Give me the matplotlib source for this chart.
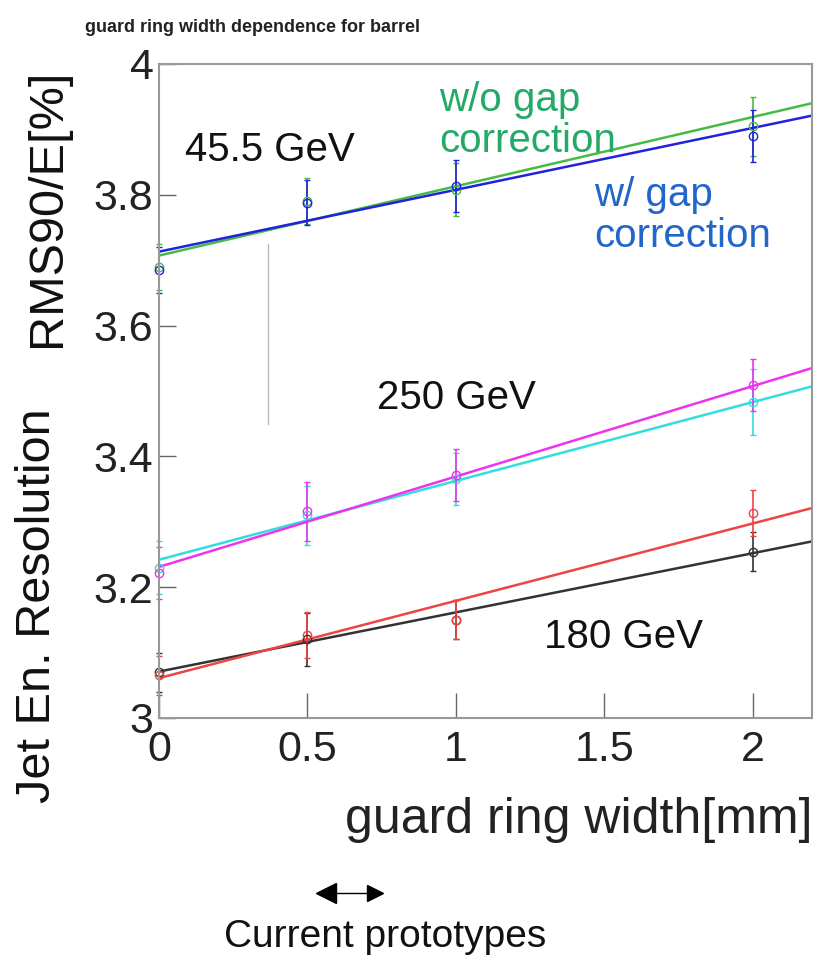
import numpy as np
import matplotlib.pyplot as plt

plt.rcParams['font.family'] = ['Liberation Sans', 'DejaVu Sans']

# guard ring widths [mm]
gr = np.array([0, 0.5, 1, 2])
fit_x = np.array([0, 2.2])

# 45.5 GeV
e45_wo = np.array([3.690, 3.790, 3.808, 3.905])
e45_wo_err = np.array([0.035, 0.035, 0.040, 0.045])
e45_w = np.array([3.685, 3.788, 3.813, 3.890])
e45_w_err = np.array([0.035, 0.035, 0.040, 0.040])
fit45_wo = np.array([3.707, 3.940])
fit45_w = np.array([3.713, 3.921])

# 250 GeV
e250_wo = np.array([3.222, 3.316, 3.372, 3.509])
e250_wo_err = np.array([0.040, 0.045, 0.040, 0.040])
e250_w = np.array([3.230, 3.310, 3.365, 3.483])
e250_w_err = np.array([0.040, 0.045, 0.040, 0.050])
fit250_wo = np.array([3.231, 3.535])
fit250_w = np.array([3.242, 3.507])

# 180 GeV
e180_wo = np.array([3.065, 3.127, 3.150, 3.313])
e180_wo_err = np.array([0.030, 0.035, 0.030, 0.035])
e180_w = np.array([3.070, 3.120, 3.150, 3.254])
e180_w_err = np.array([0.030, 0.040, 0.030, 0.030])
fit180_wo = np.array([3.061, 3.321])
fit180_w = np.array([3.071, 3.270])

fig = plt.figure(figsize=(8.27, 9.6), dpi=100)
ax = fig.add_axes([0.1923, 0.2521, 0.7896, 0.6813])

series = [
    (e45_wo, e45_wo_err, fit45_wo, '#44bb44'),
    (e45_w, e45_w_err, fit45_w, '#2222dd'),
    (e250_w, e250_w_err, fit250_w, '#33dddd'),
    (e250_wo, e250_wo_err, fit250_wo, '#ee33ee'),
    (e180_w, e180_w_err, fit180_w, '#333333'),
    (e180_wo, e180_wo_err, fit180_wo, '#ee4444'),
]
for y, err, fit, c in series:
    ax.errorbar(gr, y, yerr=err, fmt='o', mfc='none', mec=c, ecolor=c,
                ms=6, mew=1, elinewidth=1.2, capsize=2, clip_on=False)
    ax.plot(fit_x, fit, color=c, lw=1.8)

# stray vertical line
ax.plot([0.366, 0.366], [3.45, 3.725], color='#bbbbbb', lw=1)

ax.set_xlim(0, 2.2)
ax.set_ylim(3, 4)
ax.set_xticks([0, 0.5, 1, 1.5, 2])
ax.set_xticklabels(['0', '0.5', '1', '1.5', '2'])
ax.set_yticks([3, 3.2, 3.4, 3.6, 3.8, 4])
ax.set_yticklabels(['3', '3.2', '3.4', '3.6', '3.8', '4'])
ax.tick_params(direction='in', width=1, color='#666666',
               labelsize=31, labelcolor='#222222')
ax.tick_params(axis='x', length=18, pad=9)
ax.tick_params(axis='y', length=12, pad=4)
for s in ax.spines.values():
    s.set_color('#999999')
    s.set_linewidth(1.5)

ax.text(0.087, 3.868, '45.5 GeV', fontsize=29, color='#111111', va='center')
ax.text(0.945, 3.913, 'w/o gap\ncorrection', fontsize=29, color='#22aa66',
        va='center', linespacing=1.1)
ax.text(1.466, 3.769, 'w/ gap\ncorrection', fontsize=29, color='#2266cc',
        va='center', linespacing=1.1)
ax.text(0.736, 3.489, '250 GeV', fontsize=29, color='#111111', va='center')
ax.text(1.297, 3.124, '180 GeV', fontsize=29, color='#111111', va='center')

fig.text(0.9819, 0.146, 'guard ring width[mm]', fontsize=36, color='#222222',
         ha='right', va='center')
fig.text(0.057, 0.784, 'RMS90/E[%]', fontsize=35, color='#111111',
         rotation=90, ha='center', va='center')
fig.text(0.045, 0.369, 'Jet En. Resolution', fontsize=35, color='#111111',
         rotation=90, ha='center', va='center')

fig.text(0.103, 0.971, 'guard ring width dependence for barrel', fontsize=13,
         fontweight='bold', color='#222222', va='center')

fig.text(0.466, 0.024, 'Current prototypes', fontsize=28, color='#111111',
         ha='center', va='center')
fig.add_artist(plt.Line2D([0.39, 0.455], [0.0698, 0.0698], color='black',
                          lw=1, transform=fig.transFigure))
fig.add_artist(plt.Line2D([0.394], [0.0698], marker='<', ms=14, color='black',
                          transform=fig.transFigure))
fig.add_artist(plt.Line2D([0.453], [0.0698], marker='>', ms=11, color='black',
                          transform=fig.transFigure))

fig.savefig('out.png', dpi=100)
